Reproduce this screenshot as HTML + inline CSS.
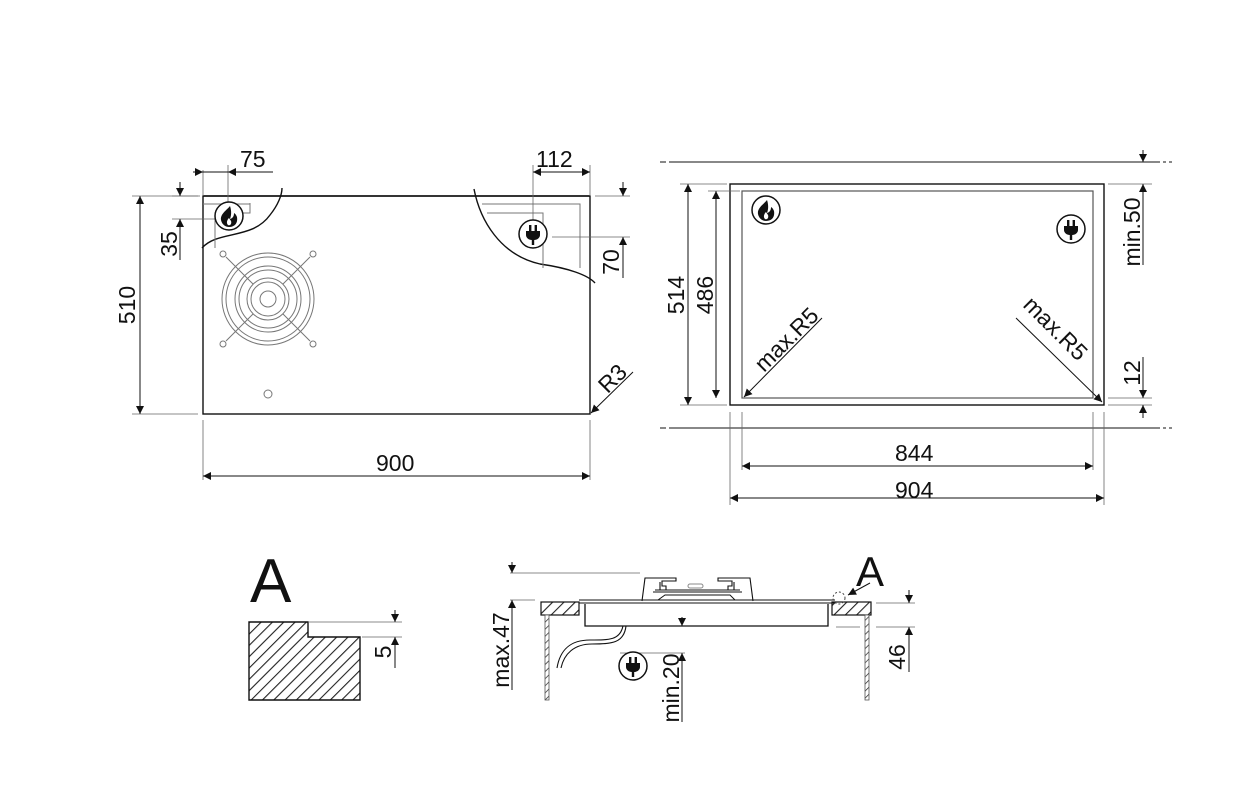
<!DOCTYPE html>
<html><head><meta charset="utf-8"><style>
html,body{margin:0;padding:0;background:#fff;width:1240px;height:789px;overflow:hidden}
svg{display:block}
text{font-family:"Liberation Sans",sans-serif;fill:#111}
</style></head><body>
<svg width="1240" height="789" viewBox="0 0 1240 789" xmlns="http://www.w3.org/2000/svg">
<defs>
<marker id="a" viewBox="0 0 10 10" refX="10" refY="5" markerWidth="13" markerHeight="8" orient="auto-start-reverse" markerUnits="userSpaceOnUse"><path d="M0,0L10,5L0,10z" fill="#111"/></marker>
<pattern id="h" patternUnits="userSpaceOnUse" width="8" height="8" patternTransform="rotate(45)"><rect width="8" height="8" fill="#fff"/><line x1="0" y1="0" x2="0" y2="8" stroke="#222" stroke-width="2.2"/></pattern>
<pattern id="hs" patternUnits="userSpaceOnUse" width="5" height="5" patternTransform="rotate(45)"><rect width="5" height="5" fill="#fff"/><line x1="0" y1="0" x2="0" y2="5" stroke="#222" stroke-width="1.4"/></pattern>
<g id="flame"><circle r="14" fill="#fff" stroke="#111" stroke-width="1.5"/><path d="M1,-10C-2,-6 -9,-2 -8,4C-7,9 -3,11 0,11C6,11 9,7 8,1C7,-2 5,-3 5,-3C5,0 4,2 1,3C3,-2 2,-7 1,-10Z" fill="#111"/><path d="M0,2C-2,4 -3,7 -1,9C1,10 3,8 2,5Z" fill="#fff"/></g>
<g id="plug"><circle r="14" fill="#fff" stroke="#111" stroke-width="1.5"/><rect x="-4" y="-9" width="2.4" height="7" fill="#111"/><rect x="1.6" y="-9" width="2.4" height="7" fill="#111"/><path d="M-7,-3H7V1C7,4 4,6 1.2,6V11H-1.2V6C-4,6 -7,4 -7,1Z" fill="#111"/></g>
</defs>
<g fill="none" stroke="#111" stroke-width="1">
<!-- TOP LEFT -->
<rect x="203" y="196" width="387" height="218" stroke-width="1.4"/>
<path d="M203,196H590" stroke-width="1.6"/>
<path d="M202,248C218,230 252,240 270,215C278,205 282,195 282,188" stroke-width="1.4"/>
<path d="M474,189C480,220 500,255 540,264C568,268 588,275 595,283" stroke-width="1.4"/>
<g stroke="#777" stroke-width="1">
<path d="M215,248V213H250V203"/><path d="M203,204H250"/>
<path d="M482,204H580V268"/><path d="M487,213H543V268"/>
<g transform="translate(268,299)">
<circle r="8"/><circle r="17"/><circle r="21"/><circle r="29"/><circle r="33"/><circle r="42"/><circle r="46"/>
<path d="M-15,-15L-42,-42M15,-15L42,-42M-15,15L-42,42M15,15L42,42"/>
<circle cx="-45" cy="-45" r="3"/><circle cx="45" cy="-45" r="3"/><circle cx="-45" cy="45" r="3"/><circle cx="45" cy="45" r="3"/>
</g>
<circle cx="268" cy="394" r="4"/>
</g>
<!-- dims TL -->
<path d="M132,196H198M132,414H198M203,420V480M590,420V480" stroke="#666" stroke-width="0.8"/>
<line x1="140" y1="196" x2="140" y2="414" marker-start="url(#a)" marker-end="url(#a)"/>
<line x1="203" y1="476" x2="590" y2="476" marker-start="url(#a)" marker-end="url(#a)"/>
<path d="M203,170V196M228,165V205M533,165V220M590,165V196" stroke="#666" stroke-width="0.8"/>
<line x1="193" y1="172" x2="203" y2="172" marker-end="url(#a)"/><line x1="203" y1="172" x2="228" y2="172"/>
<line x1="273" y1="172" x2="228" y2="172" marker-end="url(#a)"/>
<line x1="533" y1="172" x2="590" y2="172" marker-start="url(#a)" marker-end="url(#a)"/>
<path d="M172,196H200M172,219H215" stroke="#666" stroke-width="0.8"/>
<line x1="180" y1="182" x2="180" y2="196" marker-end="url(#a)"/><line x1="180" y1="260" x2="180" y2="219" marker-end="url(#a)"/>
<path d="M595,196H630M552,237H630" stroke="#666" stroke-width="0.8"/>
<line x1="623" y1="182" x2="623" y2="196" marker-end="url(#a)"/><line x1="623" y1="278" x2="623" y2="237" marker-end="url(#a)"/>
<line x1="633" y1="372" x2="591" y2="413" marker-end="url(#a)"/>
<!-- TOP RIGHT -->
<path d="M672,162H1160M672,428H1160"/>
<path d="M660,162H666M669,162H672M1163,162H1166M1169,162H1172M660,428H666M669,428H672M1163,428H1166M1169,428H1172"/>
<rect x="730" y="184" width="374" height="221" stroke-width="1.4"/>
<rect x="742" y="191" width="351" height="207" stroke="#555" stroke-width="1.2"/>
<path d="M680,184H727M708,191H740M680,405H727M1108,184H1152M1108,405H1152M1108,398H1152" stroke="#666" stroke-width="0.8"/>
<line x1="688" y1="184" x2="688" y2="405" marker-start="url(#a)" marker-end="url(#a)"/>
<line x1="716" y1="191" x2="716" y2="398" marker-start="url(#a)" marker-end="url(#a)"/>
<line x1="1143" y1="150" x2="1143" y2="162" marker-end="url(#a)"/>
<line x1="1143" y1="265" x2="1143" y2="184" marker-end="url(#a)"/>
<line x1="1143" y1="357" x2="1143" y2="398" marker-end="url(#a)"/>
<line x1="1143" y1="418" x2="1143" y2="405" marker-end="url(#a)"/>
<path d="M730,412V505M742,412V470M1093,412V470M1104,412V505" stroke="#666" stroke-width="0.8"/>
<line x1="742" y1="466" x2="1093" y2="466" marker-start="url(#a)" marker-end="url(#a)"/>
<line x1="730" y1="498" x2="1104" y2="498" marker-start="url(#a)" marker-end="url(#a)"/>
<line x1="822" y1="318" x2="744" y2="397" marker-end="url(#a)"/>
<line x1="1016" y1="318" x2="1102" y2="402" marker-end="url(#a)"/>
<!-- DETAIL A -->
<path d="M249,622H308V637H360V700H249Z" fill="url(#h)" stroke-width="1.4"/>
<path d="M308,622H402M362,637H402" stroke="#666" stroke-width="0.8"/>
<line x1="395" y1="610" x2="395" y2="622" marker-end="url(#a)"/>
<line x1="395" y1="668" x2="395" y2="637" marker-end="url(#a)"/>
<!-- SECTION -->
<rect x="541" y="602" width="38" height="13" fill="url(#h)" stroke-width="1.2"/>
<rect x="832" y="602" width="39" height="13" fill="url(#h)" stroke-width="1.2"/>
<rect x="545" y="615" width="4" height="85" fill="url(#hs)" stroke="#555" stroke-width="0.8"/>
<rect x="865" y="615" width="4" height="85" fill="url(#hs)" stroke="#555" stroke-width="0.8"/>
<path d="M579,600H835M579,603H835" stroke-width="1.1"/>
<path d="M585,604V626H828V604" stroke-width="1.3"/>
<path d="M642,601L645,578H676V581H662L662,586H666V590H660V582" stroke-width="1.1"/>
<path d="M753,601L750,578H718V581H732V586H728V590H734V582" stroke-width="1.1"/>
<path d="M653,592H742M655,590H740M665,595H730L735,600H658Z" stroke-width="1"/>
<rect x="688" y="584" width="15" height="4" rx="2" stroke="#888"/>
<path d="M623,626C620,640 610,640 590,640C570,640 560,650 557,668M626,626C624,643 612,644 592,644C574,644 564,654 561,668" stroke-width="1.1"/>
<path d="M510,573H640M510,600H535M620,653H685M876,603H915M876,627H915M836,627H860" stroke="#666" stroke-width="0.8"/>
<line x1="512" y1="562" x2="512" y2="573" marker-end="url(#a)"/>
<line x1="512" y1="690" x2="512" y2="600" marker-end="url(#a)"/>
<line x1="682" y1="617" x2="682" y2="626" marker-end="url(#a)"/>
<line x1="682" y1="722" x2="682" y2="653" marker-end="url(#a)"/>
<line x1="909" y1="590" x2="909" y2="603" marker-end="url(#a)"/>
<line x1="909" y1="672" x2="909" y2="627" marker-end="url(#a)"/>
<circle cx="839" cy="598" r="6" stroke-dasharray="2 2" stroke="#444"/>
<line x1="870" y1="583" x2="848" y2="595" marker-end="url(#a)"/>
</g>
<use href="#flame" x="229" y="216"/>
<use href="#plug" x="533" y="234"/>
<use href="#flame" x="766" y="210"/>
<use href="#plug" x="1071" y="229"/>
<use href="#plug" x="633" y="666"/>
<g font-size="23">
<text x="240" y="167">75</text>
<text x="536" y="167">112</text>
<text x="376" y="471">900</text>
<text x="895" y="461">844</text>
<text x="895" y="498">904</text>
<text transform="translate(135,305) rotate(-90)" text-anchor="middle">510</text>
<text transform="translate(177,244) rotate(-90)" text-anchor="middle">35</text>
<text transform="translate(619,262) rotate(-90)" text-anchor="middle">70</text>
<text transform="translate(618,384) rotate(-45)" text-anchor="middle">R3</text>
<text transform="translate(684,295) rotate(-90)" text-anchor="middle">514</text>
<text transform="translate(713,295) rotate(-90)" text-anchor="middle">486</text>
<text transform="translate(1140,232) rotate(-90)" text-anchor="middle">min.50</text>
<text transform="translate(1140,373) rotate(-90)" text-anchor="middle">12</text>
<text transform="translate(792,345) rotate(-45)" text-anchor="middle">max.R5</text>
<text transform="translate(1050,334) rotate(45)" text-anchor="middle">max.R5</text>
<text transform="translate(391,652) rotate(-90)" text-anchor="middle">5</text>
<text transform="translate(509,650) rotate(-90)" text-anchor="middle">max.47</text>
<text transform="translate(679,688) rotate(-90)" text-anchor="middle">min.20</text>
<text transform="translate(905,657) rotate(-90)" text-anchor="middle">46</text>
</g>
<text x="250" y="602" font-size="62">A</text>
<text x="856" y="586" font-size="42">A</text>
</svg>
</body></html>
